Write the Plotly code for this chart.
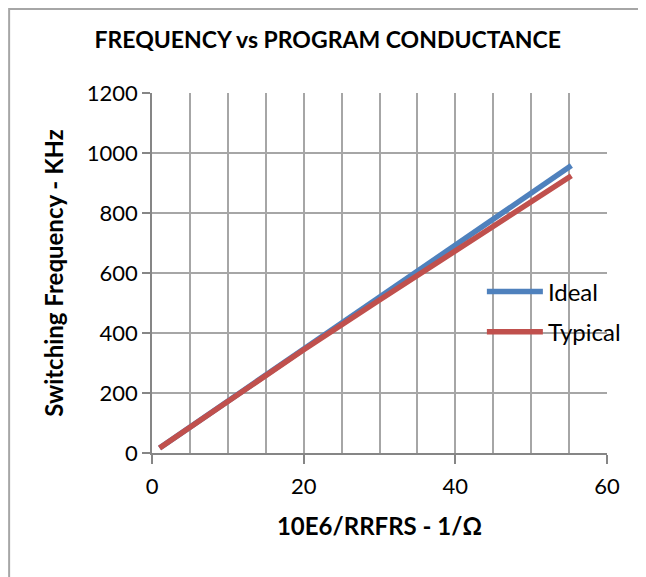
import plotly.graph_objects as go

# program conductance (10E6/RRFRS, 1/ohm)
conductance = [1, 5, 10, 20, 30, 40, 50, 55.3]
# switching frequency, KHz
ideal_khz = [17, 86, 173, 345, 518, 691, 863, 958]
typical_khz = [17, 86, 172, 344, 510, 675, 842, 924]

font_name = "Lato"
grid_col = "#a6a6a6"
axis_col = "#868686"

fig = go.Figure()
fig.add_trace(go.Scatter(
    x=conductance, y=ideal_khz, name="Ideal", mode="lines",
    line=dict(color="#4f81bd", width=5.5), legendgroup="a",
))
fig.add_trace(go.Scatter(
    x=conductance, y=typical_khz, name="Typical", mode="lines",
    line=dict(color="#c0504d", width=5.5), legendgroup="b",
))

fig.update_layout(
    width=646, height=577,
    margin=dict(l=144, r=47, t=85, b=132),
    paper_bgcolor="white", plot_bgcolor="white",
    font=dict(family=font_name, color="black", size=22),
    title=dict(text="<b>FREQUENCY vs PROGRAM CONDUCTANCE</b>",
               x=0.495, xanchor="center", y=0.945, yanchor="middle",
               font=dict(size=23, family=font_name)),
    legend=dict(x=0.725, xanchor="left", y=0.392, yanchor="middle",
                bgcolor="rgba(0,0,0,0)", font=dict(size=24),
                tracegroupgap=6, itemwidth=56),
    shapes=[dict(type="rect", xref="paper", yref="paper",
                 x0=-0.314, x1=1.3, y0=-0.5, y1=1.233,
                 line=dict(color="#a6a6a6", width=2), layer="below")],
)

fig.update_xaxes(
    range=[0, 60], dtick=20, tick0=0,
    showgrid=True, gridcolor=grid_col, gridwidth=1.5,
    minor=dict(dtick=5, showgrid=True, gridcolor=grid_col, gridwidth=1.5),
    showline=True, linecolor=axis_col, linewidth=1.5,
    ticks="outside", ticklen=9, tickcolor=axis_col, tickwidth=1.5,
    tickfont=dict(size=22), ticklabelstandoff=4, zeroline=False,
    title=dict(text="<b>10E6/RRFRS - 1/Ω</b>", font=dict(size=24), standoff=20),
)
fig.update_yaxes(
    range=[0, 1200], dtick=200,
    showgrid=True, gridcolor=grid_col, gridwidth=1.5,
    showline=True, linecolor=axis_col, linewidth=1.5,
    ticks="outside", ticklen=8, tickcolor=axis_col, tickwidth=1.5,
    tickfont=dict(size=22), zeroline=False,
    title=dict(text="<b>Switching Frequency - KHz</b>", font=dict(size=24), standoff=16),
)

fig.write_html("out.html")
